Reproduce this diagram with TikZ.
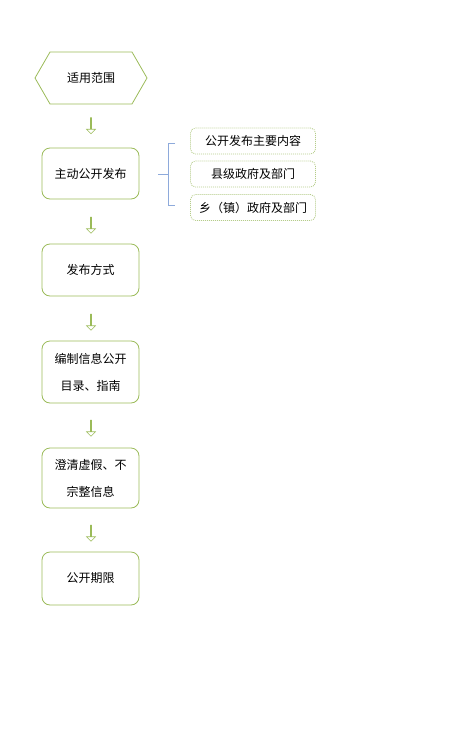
\documentclass[tikz,border=0pt]{standalone}
\usepackage{fontspec}
\setmainfont{Noto Sans CJK SC}
\usepackage{xcolor}
\usetikzlibrary{shapes.symbols, shapes.arrows}

\definecolor{stepgreen}{HTML}{9BBB59}
\definecolor{dotgreen}{HTML}{B5CC8A}
\definecolor{bracketblue}{HTML}{8EAADB}

\tikzset{
  scopebox/.style={signal, signal to=west and east, signal pointer angle=120,
    draw=stepgreen, thick, minimum width=112pt, minimum height=52pt,
    inner sep=0pt, font=\fontsize{12}{12}\selectfont},
  stepbox/.style={rectangle, rounded corners=8pt, draw=stepgreen, thick,
    minimum width=97pt, inner sep=0pt, align=center,
    font=\fontsize{12}{27}\selectfont},
  itembox/.style={rectangle, rounded corners=5pt, draw=dotgreen, thick,
    dash pattern=on 1pt off 1pt, minimum width=125pt, minimum height=26pt,
    inner sep=0pt, font=\fontsize{12}{12}\selectfont},
  downarrow/.style={single arrow, shape border rotate=270, draw=stepgreen,
    semithick, minimum height=16pt, minimum width=9pt, inner sep=0pt,
    single arrow head extend=2.5pt, single arrow head indent=0pt}
}

\begin{document}
\begin{tikzpicture}[x=1pt, y=-1pt]
  \useasboundingbox (0,0) rectangle (474,744);

  \node[scopebox] (scope) at (91,78) {适用范围};
  \node[stepbox, minimum height=51pt] (active) at (90.5,173.5) {主动公开发布};
  \node[stepbox, minimum height=52pt] (mode) at (90.5,270) {发布方式};
  \node[stepbox, minimum height=62pt] (guide) at (90.5,372) {编制信息公开\\目录、指南};
  \node[stepbox, minimum height=60pt] (clarify) at (90.5,478) {澄清虚假、不\\宗整信息};
  \node[stepbox, minimum height=53pt] (term) at (90.5,578.5) {公开期限};

  \node[downarrow] (a1) at (91,125.5) {};
  \node[downarrow] (a2) at (91,225) {};
  \node[downarrow] (a3) at (91,322) {};
  \node[downarrow] (a4) at (91,428) {};
  \node[downarrow] (a5) at (91,533) {};

  \node[itembox] (content) at (253,141) {公开发布主要内容};
  \node[itembox] (county) at (253,174) {县级政府及部门};
  \node[itembox] (town) at (253,207.5) {乡（镇）政府及部门};

  % bracket between the first step and its items
  \coordinate (brtop) at (175,143);
  \coordinate (brbot) at (175,205);
  \coordinate (brmid) at (168,174);
  \coordinate (brtip) at (158,174);
  \draw[bracketblue, semithick] (brtop) -- (168,143) -- (168,205) -- (brbot)
               (brmid) -- (brtip);
\end{tikzpicture}
\end{document}
